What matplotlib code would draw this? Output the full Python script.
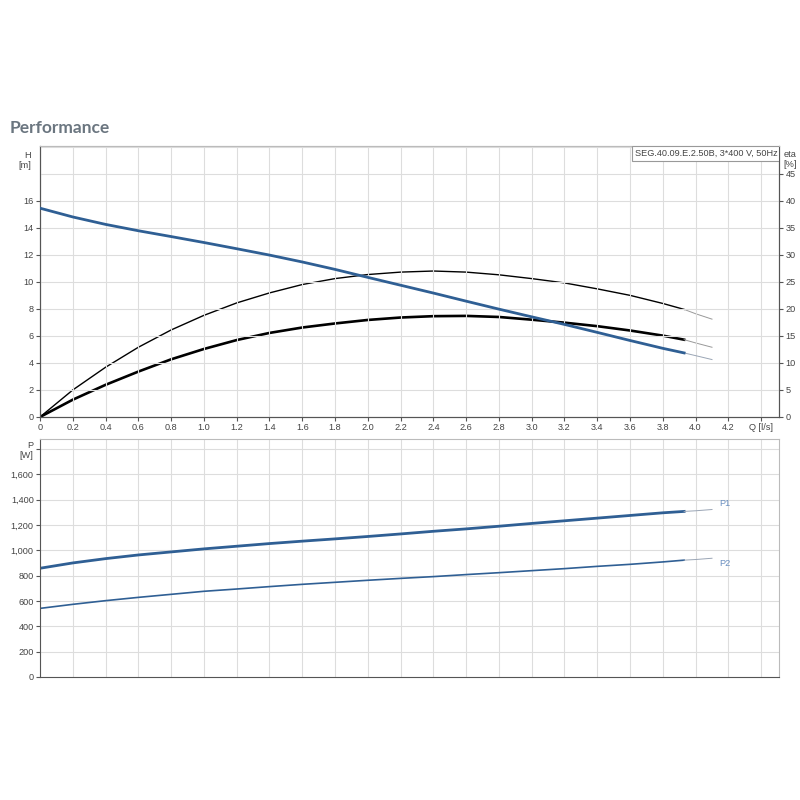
import numpy as np
import matplotlib.pyplot as plt
from matplotlib.patches import Rectangle

# flow rate Q [l/s] at which the curves were read
q = [0.0, 0.2, 0.4, 0.6, 0.8, 1.0, 1.2, 1.4, 1.6, 1.8, 2.0, 2.2, 2.4, 2.6, 2.8,
     3.0, 3.2, 3.4, 3.6, 3.8, 3.93]
q_ext = [3.93, 4.0, 4.1]

# head H [m]
head = [15.45, 14.8, 14.25, 13.78, 13.35, 12.91, 12.45, 11.98, 11.47, 10.92, 10.33,
        9.75, 9.17, 8.57, 7.98, 7.41, 6.85, 6.26, 5.66, 5.08, 4.74]
head_ext = [4.74, 4.54, 4.25]

# pump efficiency eta [%] (thin)
eta_pump = [0.0, 5.0, 9.2, 12.9, 16.1, 18.8, 21.1, 22.95, 24.5, 25.6, 26.35, 26.8,
            27.0, 26.8, 26.3, 25.6, 24.8, 23.7, 22.5, 21.0, 19.9]
eta_pump_ext = [19.9, 19.1, 18.1]

# total efficiency eta [%] (thick)
eta_tot = [0.0, 3.2, 5.95, 8.4, 10.67, 12.58, 14.23, 15.55, 16.55, 17.3, 17.95, 18.4,
           18.65, 18.7, 18.5, 18.0, 17.45, 16.8, 16.0, 15.05, 14.3]
eta_tot_ext = [14.3, 13.7, 12.9]

# power P1 / P2 [W]
p1 = [859, 901, 935, 964, 988, 1012, 1033, 1054, 1073, 1091, 1110, 1130, 1151,
      1170, 1191, 1213, 1234, 1255, 1276, 1297, 1308]
p1_ext = [1308, 1313, 1323]
p2 = [542, 574, 603, 629, 653, 677, 695, 714, 732, 748, 764, 779, 793, 809, 824,
      840, 856, 874, 890, 909, 923]
p2_ext = [923, 928, 938]

x_ticks = [round(0.2 * i, 1) for i in range(22)]
h_ticks = [0, 2, 4, 6, 8, 10, 12, 14, 16]
eta_ticks = [0, 5, 10, 15, 20, 25, 30, 35, 40, 45]
p_ticks = [0, 200, 400, 600, 800, 1000, 1200, 1400, 1600]

blue = '#2f5f94'
lblue = '#6a8fc0'
grid_c = '#dddddd'
dark = '#555555'
txt = '#444444'
fs = 6.6

plt.rcParams['font.family'] = ['Liberation Sans', 'DejaVu Sans']

fig = plt.figure(figsize=(8, 8), dpi=100)
fig.text(0.012, 0.834, 'Performance', fontsize=12.5, fontweight='bold', color='#6b7680',
         va='baseline', family=['Lato', 'DejaVu Sans'])

# --- upper chart: head and efficiency ---
ax = fig.add_axes([0.05, 0.47875, 0.924, 0.33875])
ax2 = ax.twinx()
ax.set_zorder(ax2.get_zorder() + 1)
ax.patch.set_visible(False)

ax.set_xlim(0, 4.51)
ax.set_ylim(0, 20.05)
ax2.set_ylim(0, 50.125)

for x in x_ticks + [4.4]:
    ax.axvline(x, color=grid_c, lw=0.8, zorder=0)
for y in range(2, 21, 2):
    ax.axhline(y, color=grid_c, lw=0.8, zorder=0)

ax.plot(q, head, color=blue, lw=2.0, zorder=5)
ax.plot(q_ext, head_ext, color='#9aa5b5', lw=0.7, zorder=4)
ax2.plot(q, eta_pump, color='black', lw=1.0)
ax2.plot(q_ext, eta_pump_ext, color='#999999', lw=0.7)
ax2.plot(q, eta_tot, color='black', lw=1.9)
ax2.plot(q_ext, eta_tot_ext, color='#999999', lw=0.7)

ax.set_xticks(x_ticks + [4.4])
ax.set_xticklabels([('%.1f' % v if v > 0 else '0') for v in x_ticks] + ['Q [l/s]'])
ax.set_yticks(h_ticks)
ax2.set_yticks(eta_ticks)
ax.tick_params(axis='both', labelsize=fs, colors=dark, labelcolor=txt, length=3, width=0.8, pad=1.5)
ax2.tick_params(axis='y', labelsize=fs, colors=dark, labelcolor=txt, length=3, width=0.8, pad=1.5)

for a in (ax, ax2):
    a.spines['top'].set_color('#bbbbbb')
    a.spines['left'].set_color(dark)
    a.spines['bottom'].set_color(dark)
    a.spines['right'].set_color(dark)
ax.text(-0.012, 19.0, 'H\n[m]', transform=ax.get_yaxis_transform(), ha='right', va='center',
        fontsize=fs, color=txt, linespacing=1.1)
ax2.text(1.006, 47.6, 'eta\n[%]', transform=ax2.get_yaxis_transform(), ha='left', va='center',
         fontsize=fs, color=txt, linespacing=1.1)

# curve name box in the top right corner
ax.add_patch(Rectangle((0.801, 0.9446), 0.199, 0.0554, transform=ax.transAxes,
                       fc='white', ec='#999999', lw=0.8, zorder=9))
ax.text(0.805, 0.972, 'SEG.40.09.E.2.50B, 3*400 V, 50Hz', transform=ax.transAxes,
        ha='left', va='center', fontsize=fs, color=txt, zorder=10)

# --- lower chart: power ---
bx = fig.add_axes([0.05, 0.15375, 0.924, 0.2975])
bx.set_xlim(0, 4.51)
bx.set_ylim(0, 1880)
for x in x_ticks + [4.4]:
    bx.axvline(x, color=grid_c, lw=0.8, zorder=0)
for y in range(200, 1801, 200):
    bx.axhline(y, color=grid_c, lw=0.8, zorder=0)

bx.plot(q, p1, color=blue, lw=2.0)
bx.plot(q_ext, p1_ext, color='#9aa5b5', lw=0.7)
bx.plot(q, p2, color=blue, lw=1.2)
bx.plot(q_ext, p2_ext, color='#9aa5b5', lw=0.7)
bx.text(4.146, 1369, 'P1', fontsize=fs, color=lblue, va='center')
bx.text(4.146, 894, 'P2', fontsize=fs, color=lblue, va='center')

bx.set_xticks([])
bx.set_yticks(p_ticks + [1800])
bx.set_yticklabels(['{:,}'.format(v) for v in p_ticks] + ['P\n[W]'], linespacing=1.1)
bx.tick_params(axis='y', labelsize=fs, colors=dark, labelcolor=txt, length=3, width=0.8, pad=1.5)
bx.spines['top'].set_color('#bbbbbb')
bx.spines['right'].set_color('#bbbbbb')
bx.spines['left'].set_color(dark)
bx.spines['bottom'].set_color(dark)

fig.savefig('out.png', dpi=100)
